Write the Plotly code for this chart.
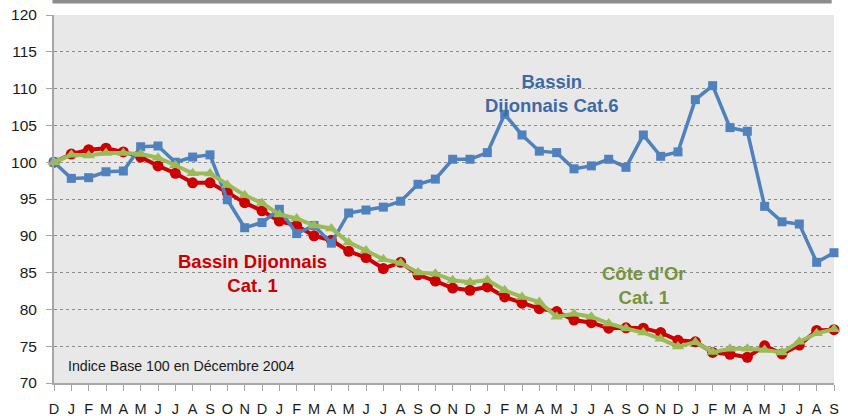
import plotly.graph_objects as go

tick_labels = ["D",
               "J", "F", "M", "A", "M", "J", "J", "A", "S", "O", "N", "D",
               "J", "F", "M", "A", "M", "J", "J", "A", "S", "O", "N", "D",
               "J", "F", "M", "A", "M", "J", "J", "A", "S", "O", "N", "D",
               "J", "F", "M", "A", "M", "J", "J", "A", "S"]
x_idx = list(range(len(tick_labels)))

bassin_cat6 = [100.0, 97.8, 97.9, 98.7, 98.8, 102.1, 102.2, 100.0, 100.7, 101.0,
               94.9, 91.1, 91.8, 93.6, 90.3, 91.4, 89.0, 93.1, 93.5, 93.9,
               94.7, 97.0, 97.7, 100.4, 100.4, 101.3, 106.5, 103.7, 101.5, 101.3,
               99.1, 99.5, 100.4, 99.3, 103.7, 100.8, 101.4, 108.5, 110.4, 104.7,
               104.2, 94.0, 91.9, 91.6, 86.4, 87.7]

bassin_cat1 = [100.0, 101.1, 101.7, 101.9, 101.4, 100.7, 99.5, 98.5, 97.2, 97.2,
               95.9, 94.5, 93.4, 92.0, 91.4, 90.0, 89.4, 87.9, 87.05, 85.55,
               86.4, 84.7, 83.85, 82.9, 82.6, 83.05, 81.7, 80.85, 80.1, 79.7,
               78.55, 78.2, 77.45, 77.5, 77.45, 76.85, 75.8, 75.6, 74.15, 73.9,
               73.5, 75.05, 73.95, 75.15, 77.15, 77.25]

cote_dor_cat1 = [100.0, 101.0, 100.9, 101.25, 101.25, 101.1, 100.6, 99.6, 98.5, 98.45,
                 96.9, 95.5, 94.45, 92.9, 92.35, 91.4, 91.0, 89.1, 88.0, 86.8,
                 86.3, 85.0, 84.85, 83.95, 83.7, 84.0, 82.6, 81.7, 81.0, 79.0,
                 79.4, 79.0, 78.1, 77.4, 76.85, 76.0, 74.95, 75.55, 74.2, 74.65,
                 74.65, 74.5, 74.15, 75.6, 76.75, 77.3]

y_ticks = [70, 75, 80, 85, 90, 95, 100, 105, 110, 115, 120]

RED = "#CC0000"
BLUE = "#4F81BD"
GREEN = "#9BBB59"
FONT = "Liberation Sans, Arial, sans-serif"

fig = go.Figure()
fig.add_trace(go.Scatter(x=x_idx, y=bassin_cat1, mode="lines+markers",
                         line=dict(color=RED, width=4),
                         marker=dict(symbol="circle", size=11, color=RED),
                         cliponaxis=False, name="Bassin Dijonnais Cat. 1"))
fig.add_trace(go.Scatter(x=x_idx, y=bassin_cat6, mode="lines+markers",
                         line=dict(color=BLUE, width=3.5),
                         marker=dict(symbol="square", size=9, color=BLUE),
                         cliponaxis=False, name="Bassin Dijonnais Cat.6"))
fig.add_trace(go.Scatter(x=x_idx, y=cote_dor_cat1, mode="lines+markers",
                         line=dict(color=GREEN, width=4),
                         marker=dict(symbol="triangle-up", size=11, color=GREEN),
                         cliponaxis=False, name="Côte d'Or Cat. 1"))

fig.update_layout(
    width=848, height=416,
    margin=dict(l=54, r=14, t=15, b=33, autoexpand=False),
    paper_bgcolor="white",
    plot_bgcolor="#E8E8E8",
    showlegend=False,
    font=dict(family=FONT, size=15, color="#1A1A1A"),
)
fig.update_xaxes(
    range=[0, 45], tickmode="array", tickvals=x_idx, ticktext=tick_labels,
    showgrid=False, zeroline=False, showline=True, linecolor="#A6A6A6", linewidth=2,
    ticks="outside", ticklen=6, tickwidth=1, tickcolor="#A6A6A6",
    tickfont=dict(size=14.5), ticklabelstandoff=6, automargin=False,
)
fig.update_yaxes(
    range=[70, 120], tickmode="array", tickvals=y_ticks,
    showgrid=True, gridcolor="#8C8C8C", griddash="dot", gridwidth=1,
    zeroline=False, showline=True, linecolor="#A6A6A6", linewidth=2,
    ticks="outside", ticklen=6, tickwidth=1, tickcolor="#A6A6A6",
    tickfont=dict(size=15.5), ticklabelstandoff=6, automargin=False,
)

# top gray bar (bottom edge of a cropped title box)
fig.add_shape(type="rect", xref="paper", yref="paper",
              x0=-0.002, x1=0.997, y0=(383 - 3.5) / 368, y1=1.1,
              fillcolor="#8C8C8C", line=dict(width=0), layer="above")

fig.add_annotation(x=0.638, y=109.3, xref="paper", yref="y", xanchor="center",
                   text="<b>Bassin<br>Dijonnais Cat.6</b>", showarrow=False,
                   font=dict(size=18.5, color="#3D6AA6", family=FONT), align="center")
fig.add_annotation(x=0.255, y=84.85, xref="paper", yref="y", xanchor="center",
                   text="<b>Bassin Dijonnais<br>Cat. 1</b>", showarrow=False,
                   font=dict(size=18.5, color=RED, family=FONT), align="center")
fig.add_annotation(x=0.756, y=83.3, xref="paper", yref="y", xanchor="center",
                   text="<b>Côte d'Or<br>Cat. 1</b>", showarrow=False,
                   font=dict(size=18.5, color="#77933C", family=FONT), align="center")
fig.add_annotation(x=0.0155, y=72.3, xref="paper", yref="y", xanchor="left",
                   text="Indice Base 100 en Décembre 2004", showarrow=False,
                   font=dict(size=14.2, color="#1A1A1A", family=FONT))

fig.write_html("out.html", config={"displayModeBar": False},
               post_script="document.body.style.margin='0';")
